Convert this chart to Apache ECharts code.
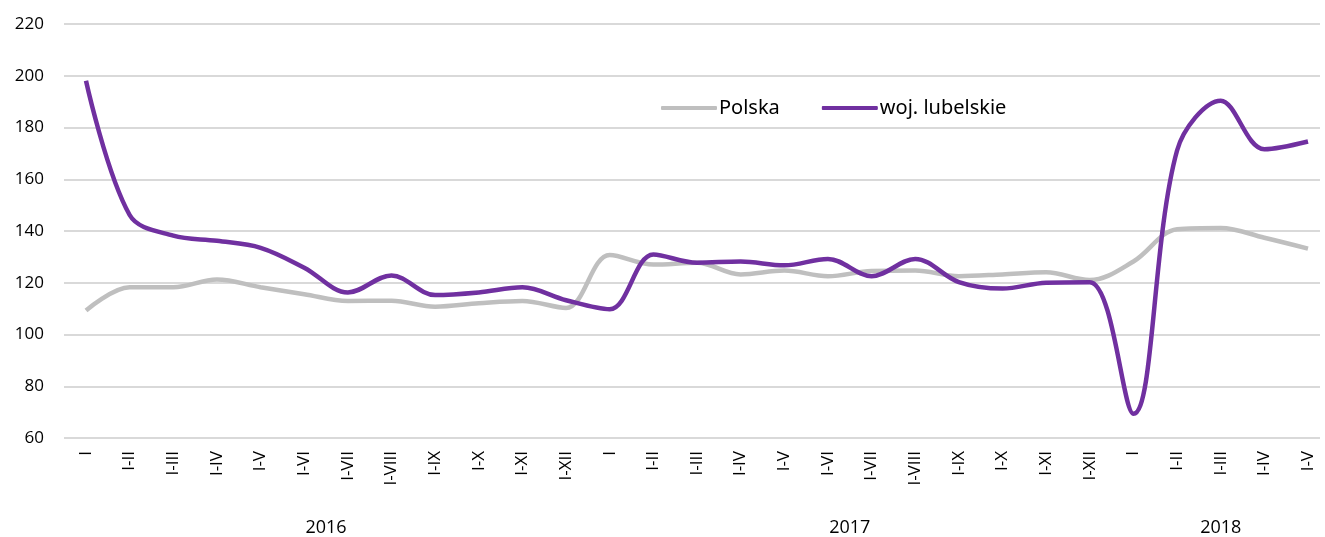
<!DOCTYPE html>
<html><head><meta charset="utf-8">
<script src="https://cdn.jsdelivr.net/npm/echarts@6/dist/echarts.min.js"></script>
<style>html,body{margin:0;padding:0;background:#fff}#c{width:1325px;height:537px}</style>
</head><body><div id="c"></div>
<script>
const categories = ['I','I-II','I-III','I-IV','I-V','I-VI','I-VII','I-VIII','I-IX','I-X','I-XI','I-XII',
  'I','I-II','I-III','I-IV','I-V','I-VI','I-VII','I-VIII','I-IX','I-X','I-XI','I-XII',
  'I','I-II','I-III','I-IV','I-V'];
const polska = [109,118,118,121,118,115.3,112.7,112.8,110.5,111.8,112.7,110,
  130.5,126.8,127.5,123,124.5,122.3,124.3,124.5,122.3,123,123.8,120.8,
  128,140.5,141,137.2,133];
const lubelskie = [198,146,138,136,133.3,125.6,116,122.6,115,116,118,113,
  109.5,130.7,127.5,128,126.5,129,122.3,129,120,117.5,119.8,120,
  69,171,190.3,171.5,174.5];
const years = ['2016','2017','2018'];
const yearPos = [5.5, 17.5, 26];
const yTicks = {min:60, max:220, interval:20};

const font = '"Open Sans", "Noto Sans", sans-serif';
const chart = echarts.init(document.getElementById('c'), null, {renderer:'canvas'});
chart.setOption({
  animation:false,
  backgroundColor:'#fff',
  textStyle:{fontFamily:font},
  legend:{
    left:656, top:93, itemWidth:56, itemHeight:4, itemGap:42,
    icon:'roundRect',
    textStyle:{fontSize:20, color:'#000', fontFamily:'"Noto Sans",sans-serif', padding:[0,0,0,-3]},
    data:['Polska','woj. lubelskie']
  },
  grid:[
    {left:64, right:5, top:24, bottom:99, containLabel:false},
    {left:86, right:17, top:24, bottom:99, containLabel:false}
  ],
  xAxis:[
    {type:'value', gridIndex:0, min:0, max:1, show:false},
    {type:'category', gridIndex:1, data:categories, boundaryGap:false,
     axisLine:{show:false}, axisTick:{show:false},
     axisLabel:{rotate:90, fontSize:17, color:'#000', margin:14, interval:0, fontFamily:font}},
    {type:'value', gridIndex:1, min:0, max:categories.length-1, position:'bottom', offset:74,
     axisLine:{show:false}, axisTick:{show:false}, splitLine:{show:false},
     axisLabel:{customValues:yearPos, fontSize:18, color:'#000', fontFamily:font,
       formatter:(v)=>years[yearPos.indexOf(v)]}}
  ],
  yAxis:[
    {type:'value', gridIndex:0, min:yTicks.min, max:yTicks.max, interval:yTicks.interval,
     axisLine:{show:false}, axisTick:{show:false},
     axisLabel:{fontSize:17, color:'#000', margin:20, fontFamily:font},
     splitLine:{lineStyle:{color:'#D9D9D9', width:2}}},
    {type:'value', gridIndex:1, min:yTicks.min, max:yTicks.max, interval:yTicks.interval, show:false}
  ],
  series:[
    {name:'Polska', type:'line', xAxisIndex:1, yAxisIndex:1, data:polska, smooth:0.35,
     showSymbol:false, lineStyle:{color:'#BFBFBF', width:4.5}, itemStyle:{color:'#BFBFBF'}},
    {name:'woj. lubelskie', type:'line', xAxisIndex:1, yAxisIndex:1, data:lubelskie, smooth:0.35,
     showSymbol:false, lineStyle:{color:'#7030A0', width:4.5}, itemStyle:{color:'#7030A0'}}
  ]
});
</script></body></html>
